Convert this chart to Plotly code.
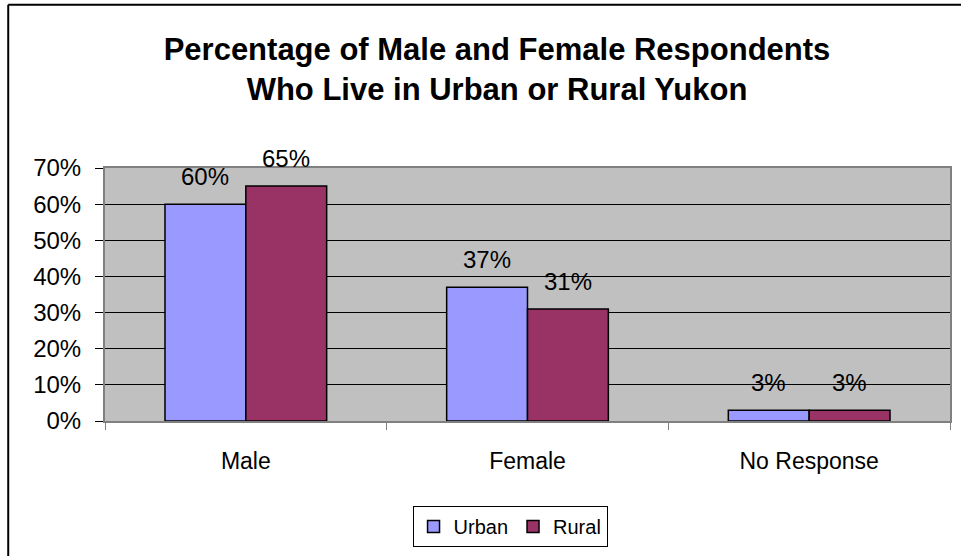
import plotly.graph_objects as go

categories = ["Male", "Female", "No Response"]
urban = [0.60, 0.37, 0.03]
rural = [0.65, 0.31, 0.03]
series_names = ["Urban", "Rural"]
y_ticks = [0, 0.1, 0.2, 0.3, 0.4, 0.5, 0.6, 0.7]
y_ticklabels = ["0%", "10%", "20%", "30%", "40%", "50%", "60%", "70%"]

colors = ["#9999FF", "#993366"]
font_family = "Liberation Sans, Arial, sans-serif"

W, H = 961, 556
L, R, T, B = 105, 9, 168, 134
pw, ph = W - L - R, H - T - B
BARGAP = 0.426
bar_px = pw / len(categories) * (1 - BARGAP) / 2


def px(x):
    return (x - L) / pw


def py(y):
    return (H - B - y) / ph


fig = go.Figure()
annotations = []
for i, (name, vals, col) in enumerate(zip(series_names, [urban, rural], colors)):
    fig.add_trace(go.Bar(
        x=categories, y=vals, name=name,
        marker=dict(color=col, line=dict(color="#000000", width=1.5)),
        hoverinfo="skip",
    ))
    for c, v in zip(categories, vals):
        annotations.append(dict(
            x=c, y=v, xref="x", yref="y", text=f"{round(v * 100)}%",
            showarrow=False, yanchor="bottom", xanchor="center",
            xshift=(i - 0.5) * bar_px, yshift=12,
            font=dict(size=24, color="#000000", family=font_family),
        ))

fig.update_layout(
    width=W, height=H,
    margin=dict(l=L, r=R, t=T, b=B),
    paper_bgcolor="#FFFFFF",
    plot_bgcolor="#C0C0C0",
    font=dict(family=font_family, size=18, color="#000000"),
    title=dict(
        text="<b>Percentage of Male and Female Respondents<br>Who Live in Urban or Rural Yukon</b>",
        x=497 / W, xanchor="center", xref="container", y=1 - 60 / H, yanchor="middle",
        yref="container",
        font=dict(size=31, family=font_family, color="#000000"),
    ),
    barmode="group",
    bargap=BARGAP,
    bargroupgap=0,
    showlegend=True,
    legend=dict(
        orientation="h",
        x=px(511), xanchor="center",
        y=py(528), yanchor="middle",
        bordercolor="#000000", borderwidth=1,
        bgcolor="#FFFFFF",
        font=dict(size=20, family=font_family, color="#000000"),
        itemwidth=30,
        traceorder="normal",
    ),
    xaxis=dict(
        type="category",
        showline=True, mirror=True, linecolor="#808080", linewidth=2,
        ticks="outside", tickson="boundaries", ticklen=7, tickcolor="#808080",
        tickfont=dict(size=23, color="#000000"),
        ticklabelstandoff=18,
        showgrid=False, fixedrange=True,
    ),
    yaxis=dict(
        range=[0, 0.7],
        tickvals=y_ticks, ticktext=y_ticklabels,
        showline=True, mirror=True, linecolor="#808080", linewidth=2,
        ticks="outside", ticklen=8, tickcolor="#000000",
        tickfont=dict(size=24, color="#000000"),
        ticklabelstandoff=9,
        showgrid=True, gridcolor="#000000", gridwidth=1,
        zeroline=False, fixedrange=True,
    ),
    annotations=annotations,
    shapes=[
        dict(type="line", xref="paper", yref="paper",
             x0=px(8), x1=px(8), y0=py(4), y1=py(570),
             line=dict(color="#000000", width=2)),
        dict(type="line", xref="paper", yref="paper",
             x0=px(8), x1=px(970), y0=py(4), y1=py(4),
             line=dict(color="#000000", width=2)),
    ],
)

fig.write_html(
    "out.html",
    config={"displayModeBar": False},
    post_script="document.body.style.margin='0';document.body.style.overflow='hidden';",
)
